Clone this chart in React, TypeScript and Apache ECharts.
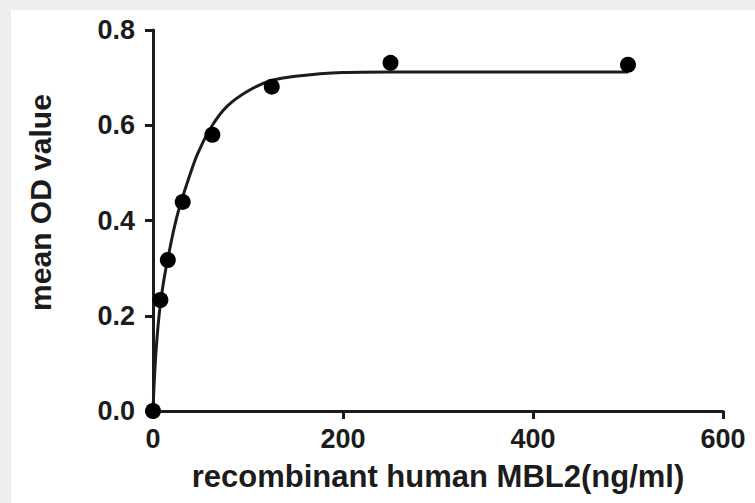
import React, { useEffect, useRef } from "react";
import * as echarts from "echarts";

const concentrations = [0, 7.8, 15.6, 31.25, 62.5, 125, 250, 500];
const meanOD = [0.0, 0.233, 0.317, 0.439, 0.58, 0.681, 0.731, 0.727];

const fitX = [0, 3, 7.8, 15.6, 31.25, 62.5, 100, 150, 250, 500];
const fitY = [0.0, 0.12, 0.225, 0.32, 0.45, 0.6, 0.672, 0.703, 0.712, 0.712];

const xTicks = [0, 200, 400, 600];
const yTicks = [0.0, 0.2, 0.4, 0.6, 0.8];

const FONT = "'Liberation Sans', Arial, sans-serif";
const INK = "#1c1c1c";

export default function App() {
  const ref = useRef<HTMLDivElement>(null);

  useEffect(() => {
    if (!ref.current) return;
    const chart = echarts.init(ref.current, undefined, { renderer: "svg" });
    chart.setOption({
      animation: false,
      backgroundColor: "#ffffff",
      grid: { left: 142, right: 32, top: 20, bottom: 92 },
      xAxis: {
        type: "value",
        min: xTicks[0],
        max: xTicks[xTicks.length - 1],
        interval: 200,
        name: "recombinant human MBL2(ng/ml)",
        nameLocation: "middle",
        nameGap: 50,
        nameTextStyle: { fontFamily: FONT, fontWeight: "bold", fontSize: 31, color: INK },
        axisLine: { show: true, lineStyle: { color: INK, width: 3 } },
        axisTick: { show: true, length: 8, lineStyle: { color: INK, width: 3 } },
        axisLabel: {
          fontFamily: FONT,
          fontWeight: "bold",
          fontSize: 27,
          color: INK,
          margin: 14,
          formatter: (v: number) => String(v),
        },
        splitLine: { show: false },
      },
      yAxis: {
        type: "value",
        min: yTicks[0],
        max: yTicks[yTicks.length - 1],
        interval: 0.2,
        name: "mean OD value",
        nameLocation: "middle",
        nameGap: 98,
        nameTextStyle: {
          fontFamily: FONT,
          fontWeight: "bold",
          fontSize: 30,
          color: INK,
          padding: [0, 0, 0, 36],
        },
        axisLine: { show: true, lineStyle: { color: INK, width: 3 } },
        axisTick: { show: true, length: 8, lineStyle: { color: INK, width: 3 } },
        axisLabel: {
          fontFamily: FONT,
          fontWeight: "bold",
          fontSize: 27,
          color: INK,
          margin: 18,
          formatter: (v: number) => v.toFixed(1),
        },
        splitLine: { show: false },
      },
      series: [
        {
          type: "line",
          data: fitX.map((x, i) => [x, fitY[i]]),
          smooth: 0.4,
          showSymbol: false,
          symbol: "none",
          lineStyle: { color: INK, width: 3 },
          z: 2,
        },
        {
          type: "scatter",
          data: concentrations.map((x, i) => [x, meanOD[i]]),
          symbol: "circle",
          symbolSize: 16,
          itemStyle: { color: "#000000", opacity: 1 },
          z: 3,
        },
      ],
    });
    return () => chart.dispose();
  }, []);

  return (
    <div
      style={{
        position: "fixed",
        left: 0,
        top: 0,
        width: 755,
        height: 503,
        background: "#eeeeee",
        overflow: "hidden",
      }}
    >
      <div
        ref={ref}
        style={{ position: "absolute", left: 11, top: 10, width: 744, height: 493, background: "#ffffff" }}
      />
    </div>
  );
}
